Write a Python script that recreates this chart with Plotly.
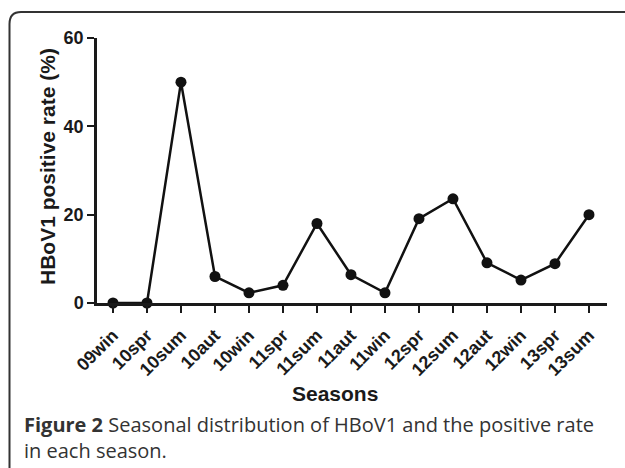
import plotly.graph_objects as go

seasons = ["09win", "10spr", "10sum", "10aut", "10win", "11spr", "11sum", "11aut",
           "11win", "12spr", "12sum", "12aut", "12win", "13spr", "13sum"]
positive_rate = [0, 0, 50, 6, 2.3, 4, 18, 6.4, 2.3, 19.1, 23.6, 9.1, 5.2, 8.9, 20]
y_ticks = [0, 20, 40, 60]

W, H = 625, 468
L, R, T, B = 97, 18, 38, 165
pw, ph = W - L - R, H - T - B

def px(x):
    return (x - L) / pw

def py(y):
    return (H - B - y) / ph

fig = go.Figure()
fig.add_trace(go.Scatter(
    x=list(range(len(seasons))), y=positive_rate, mode="lines+markers",
    line=dict(color="#111111", width=2.5),
    marker=dict(color="#111111", size=11, symbol="circle"),
    showlegend=False, cliponaxis=False,
))

fig.update_layout(
    width=W, height=H,
    margin=dict(l=L, r=R, t=T, b=B),
    paper_bgcolor="white", plot_bgcolor="white",
    xaxis=dict(
        range=[-0.47, 14.53], tickmode="array",
        tickvals=list(range(len(seasons))), ticktext=seasons,
        tickangle=-45, ticks="outside", ticklen=7, tickwidth=2, tickcolor="#1a1a1a",
        ticklabelstandoff=5,
        showline=True, linecolor="#1a1a1a", linewidth=2.5,
        showgrid=False, zeroline=False,
        tickfont=dict(family="Arial", size=18, color="#1a1a1a", weight="bold"),
    ),
    yaxis=dict(
        range=[0, 60], tickmode="array", tickvals=y_ticks,
        ticks="outside", ticklen=7, tickwidth=2, tickcolor="#1a1a1a",
        showline=True, linecolor="#1a1a1a", linewidth=2.5,
        showgrid=False, zeroline=False,
        tickfont=dict(family="Arial", size=18, color="#1a1a1a", weight="bold"),
    ),
)

# axis titles
fig.add_annotation(
    x=px(47), y=py(167), xref="paper", yref="paper", text="<b>HBoV1 positive rate (%)</b>",
    textangle=-90, showarrow=False, xanchor="center", yanchor="middle",
    font=dict(family="Arial", size=21, color="#1a1a1a"),
)
fig.add_annotation(
    x=px(335), y=py(393), xref="paper", yref="paper", text="<b>Seasons</b>",
    showarrow=False, xanchor="center", yanchor="middle",
    font=dict(family="Arial", size=21, color="#1a1a1a"),
)
# caption
fig.add_annotation(
    x=px(22), y=py(409), xref="paper", yref="paper",
    text="<b>Figure 2</b> Seasonal distribution of HBoV1 and the positive rate<br>in each season.",
    showarrow=False, xanchor="left", yanchor="top", align="left",
    font=dict(family="Open Sans", size=20, color="#333333"),
)

# frame
path = (f"M {px(9.5)},{py(470)} L {px(9.5)},{py(24)} "
        f"Q {px(9.5)},{py(12)} {px(21)},{py(12)} L {px(626)},{py(12)}")
fig.add_shape(type="path", path=path, xref="paper", yref="paper",
              line=dict(color="#333333", width=2))

fig.write_html("out.html", config={"displayModeBar": False},
               post_script="document.body.style.margin='0';document.body.style.overflow='hidden';")
